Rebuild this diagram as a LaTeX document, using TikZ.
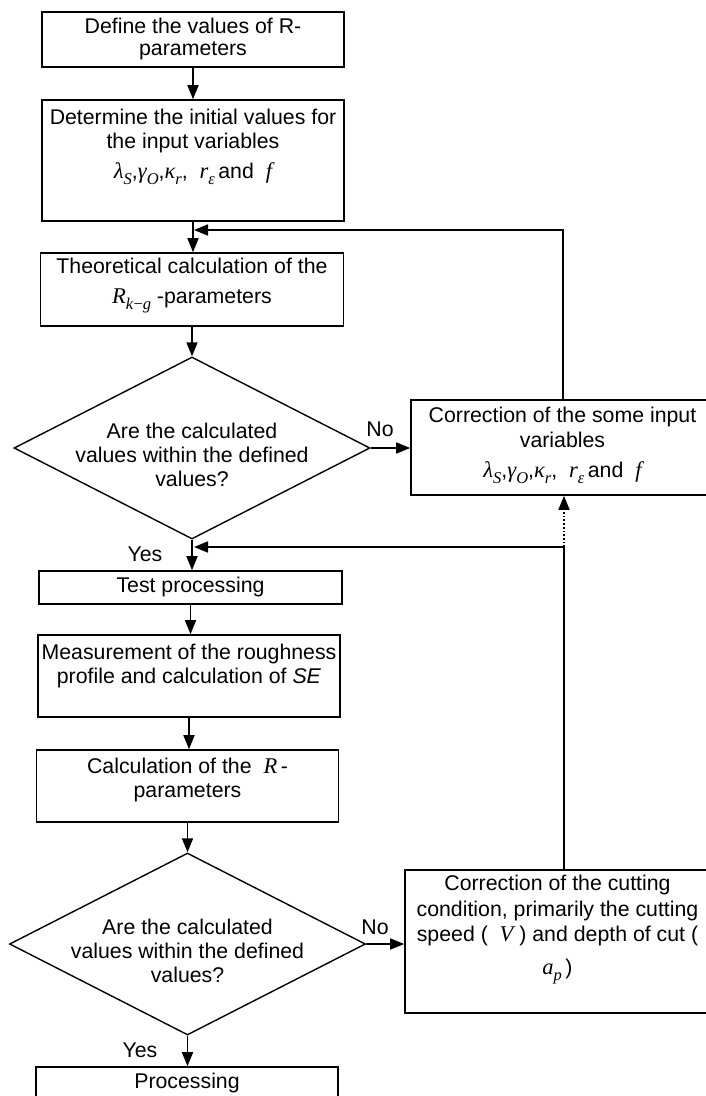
\documentclass[tikz,border=0pt]{standalone}
\usepackage{fontspec}
\setmainfont{Liberation Sans}
\newfontfamily\tms{Liberation Serif}
\usetikzlibrary{shapes.geometric,arrows.meta,calc}

% box text: width, height, top padding, lines
\newcommand{\boxtxt}[4]{\parbox[c][#2][t]{#1}{\centering\vspace*{#3}\strut #4}}
% italic symbols and lowered subscripts
\newcommand{\mi}[1]{{\fontsize{22.5}{24.5}\selectfont\tms\itshape #1}}
\newcommand{\lsub}[1]{\raisebox{-0.32em}{\fontsize{16.5}{16.5}\selectfont\tms\itshape #1}}
\newcommand{\invars}{\mi{λ}\lsub{S},\mi{γ}\lsub{O},\mi{κ}\lsub{r},\ \ \mi{r}\lsub{ε}\,and\ \ \mi{f}}

\tikzset{
  basefont/.style={font=\fontsize{21.3}{24.5}\selectfont},
  blk/.style={draw, rectangle, line width=1.6pt, inner sep=0pt, basefont},
  dmd/.style={draw, diamond, line width=1.4pt, inner sep=0pt,
              minimum width=356pt, minimum height=182pt},
  dtxt/.style={align=center, inner sep=0pt, font=\fontsize{21.3}{24}\selectfont},
  lbl/.style={inner sep=0pt, basefont},
  arr/.style={line width=1.7pt, -{Triangle[length=14pt,width=11pt]}},
}

\begin{document}
\begin{tikzpicture}[x=1pt,y=-1pt]
\useasboundingbox (0,0) rectangle (706,1096);
\clip (0,0) rectangle (706,1096);

% main column
\node[blk] (b1) at (193,39.5)
  {\boxtxt{302pt}{55pt}{3.85pt}{Define the values of R-\\[-2.5pt]parameters}};
\node[blk] (b2) at (193,160.5)
  {\boxtxt{302pt}{121pt}{6.85pt}{Determine the initial values for\\[-0.5pt]the input variables\\[5.5pt]\invars}};
\node[blk] (b3) at (192,289.5)
  {\boxtxt{303pt}{73pt}{2.85pt}{Theoretical calculation of the\\[5.5pt]\mi{R}\lsub{k\textup{−}g}\ -parameters}};
\node[dmd] (d1) at (192,448) {};
\node[dtxt] (d1t) at (192,454.5) {Are the calculated\\values within the defined\\values?};
\node[blk] (tp) at (190.5,587.5)
  {\boxtxt{303pt}{33pt}{3.85pt}{Test processing}};
\node[blk] (m) at (189,676)
  {\boxtxt{302pt}{82pt}{6.85pt}{Measurement of the roughness\\[-0.5pt]profile and calculation of \textit{SE}}};
\node[blk] (c) at (187.5,786)
  {\boxtxt{302pt}{72pt}{5.85pt}{Calculation of the\ \ \mi{R}\,-\\[-0.5pt]parameters}};
\node[dmd] (d2) at (187.5,944) {};
\node[dtxt] (d2t) at (187.5,950.5) {Are the calculated\\values within the defined\\values?};
\node[blk] (p) at (187,1089.5)
  {\boxtxt{302pt}{45pt}{3.85pt}{Processing}};

% correction boxes
\node[blk] (r1) at (562.5,447.5)
  {\boxtxt{303pt}{95pt}{4.85pt}{Correction of the some input\\[0.5pt]variables\\[5.5pt]\invars}};
\node[blk] (r2) at (557.5,941.5)
  {\boxtxt{305pt}{143pt}{2.85pt}{Correction of the cutting\\[1.5pt]condition, primarily the cutting\\[0.5pt]speed (\ \ \mi{V}\ ) and depth of cut (\\[8.5pt]\mi{a}\lsub{p}\,)}};

% branch labels
\node[lbl] (no1) at (380,429) {No};
\node[lbl] (yes1) at (145,554) {Yes};
\node[lbl] (no2) at (375,927) {No};
\node[lbl] (yes2) at (140,1050) {Yes};

% forward flow
\draw[arr] (b1.south) -- (b1.south |- b2.north);
\draw[arr] (b2.south) -- (b2.south |- b3.north);
\draw[arr] (b3.south) -- (b3.south |- d1.north);
\draw[arr] (d1.south) -- (d1.south |- tp.north);
\draw[arr] (tp.south) -- (tp.south |- m.north);
\draw[arr] (m.south) -- (m.south |- c.north);
\draw[arr] (c.south) -- (c.south |- d2.north);
\draw[arr] (d2.south) -- (d2.south |- p.north);
\draw[arr] (d1.east) -- (d1.east -| r1.west);
\draw[arr] (d2.east) -- (d2.east -| r2.west);

% feedback loops
\coordinate (k1) at (563,230);
\coordinate (j1) at (194,230);
\coordinate (k2) at (564,547);
\coordinate (j2) at (194,547);
\draw[arr] (k1 |- r1.north) -- (k1) -- (j1);
\draw[arr] (k2 |- r2.north) -- (k2) -- (j2);
\draw[arr, dotted] (k2) -- (k2 |- r1.south);
\end{tikzpicture}
\end{document}
